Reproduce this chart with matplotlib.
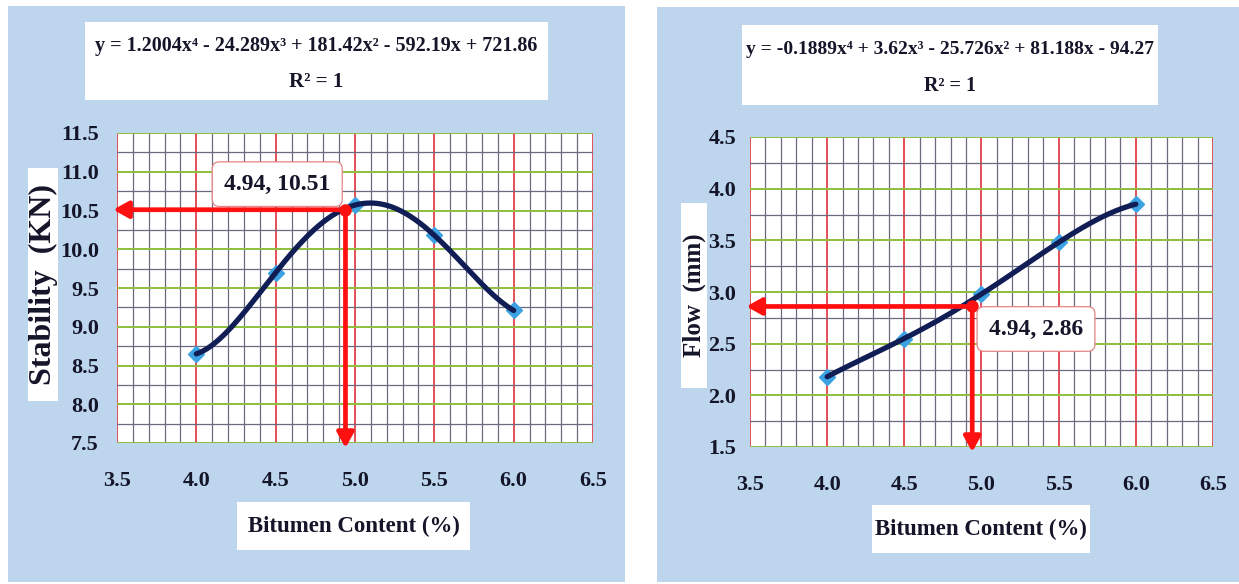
import numpy as np
import matplotlib
matplotlib.use("Agg")
import matplotlib.pyplot as plt
from matplotlib.patches import Rectangle
from matplotlib.ticker import MultipleLocator, FormatStrFormatter

# data
bitumen = [4.0, 4.5, 5.0, 5.5, 6.0]
stability = [8.65, 9.70, 10.57, 10.18, 9.21]
flow = [2.18, 2.55, 2.98, 3.48, 3.85]

opt_bitumen = 4.94
opt_stability = 10.51
opt_flow = 2.86

eq_stability = "y = 1.2004x⁴ - 24.289x³ + 181.42x² - 592.19x + 721.86"
eq_flow = "y = -0.1889x⁴ + 3.62x³ - 25.726x² + 81.188x - 94.27"
r2_text = "R² = 1"

plt.rcParams['font.family'] = ['Liberation Serif', 'DejaVu Serif']
plt.rcParams['font.weight'] = 'bold'

W, H = 1239, 584
BLUE = '#bdd6ee'
INK = '#15152a'

fig = plt.figure(figsize=(W / 100, H / 100), dpi=100)
fig.patch.set_facecolor('white')


def fx(x):
    return x / W


def fy(y):
    return 1 - y / H


def px_box(x0, y0, x1, y1, color):
    fig.add_artist(Rectangle((fx(x0), fy(y1)), fx(x1 - x0), (y1 - y0) / H,
                             transform=fig.transFigure, facecolor=color,
                             edgecolor='none', zorder=0))


def draw_panel(p, x, y, opt_x, opt_y, eq, ylabel, point_label):
    px_box(*p['panel'], BLUE)
    px_box(*p['eq_box'], 'white')
    px_box(*p['ylab_box'], 'white')
    px_box(*p['xlab_box'], 'white')

    x0, y0, x1, y1 = p['plot']
    ax = fig.add_axes([fx(x0), fy(y1), fx(x1 - x0), (y1 - y0) / H])
    ax.set_facecolor('white')
    ax.set_xlim(3.5, 6.5)
    ax.set_ylim(*p['ylim'])
    ax.xaxis.set_major_locator(MultipleLocator(0.5))
    ax.xaxis.set_minor_locator(MultipleLocator(0.1))
    ax.yaxis.set_major_locator(MultipleLocator(0.5))
    ax.yaxis.set_minor_locator(MultipleLocator(0.25))
    ax.xaxis.set_major_formatter(FormatStrFormatter('%.1f'))
    ax.yaxis.set_major_formatter(FormatStrFormatter('%.1f'))

    ax.grid(which='minor', axis='x', color='#6a6a80', lw=0.9)
    ax.grid(which='minor', axis='y', color='#6a6a80', lw=0.9)
    ax.grid(which='major', axis='x', color='#e0424c', lw=1.3)
    ax.grid(which='major', axis='y', color='#8dbf3c', lw=1.4)
    lo, hi = p['ylim']
    ax.set_axisbelow(True)
    for s in ax.spines.values():
        s.set_visible(False)
    ax.tick_params(which='both', length=0, labelsize=16, colors=INK)
    ax.tick_params(axis='y', pad=p['ypad'])
    ax.tick_params(axis='x', pad=20)

    # polynomial trendline (order 4) through the data, as in the source chart
    coef = np.polyfit(x, y, 4)
    xs = np.linspace(min(x), max(x), 200)
    ax.plot(x, y, 'D', ms=8, color='#3da2e2', zorder=2.5)
    ax.plot(xs, np.polyval(coef, xs), color='#111d55', lw=3.8, zorder=3,
            solid_capstyle='round')

    # red guide arrows to the axes
    span = hi - lo
    arrow = dict(arrowstyle='-|>,head_length=0.9,head_width=0.5', color='#ff1010',
                 lw=3.4, shrinkA=0, shrinkB=0)
    ax.annotate('', xy=(3.5 - 0.008 * 3, opt_y), xytext=(opt_x, opt_y),
                arrowprops=arrow, annotation_clip=False, zorder=4)
    ax.annotate('', xy=(opt_x, lo - 0.016 * span), xytext=(opt_x, opt_y),
                arrowprops=arrow, annotation_clip=False, zorder=4)
    ax.plot(opt_x, opt_y, 'o', color='#ff1010', ms=8, zorder=5)

    lx, ly = p['label_at']
    ax.text(lx, ly, point_label, ha='center', va='center', fontsize=17,
            color=INK, zorder=6,
            bbox=dict(boxstyle='round,pad=0.5,rounding_size=0.3', fc='white',
                      ec='#e58585', lw=0.9))

    ex0, ey0, ex1, ey1 = p['eq_box']
    fig.text(fx((ex0 + ex1) / 2), fy(p['eq_lines'][0]), eq, ha='center',
             va='center', fontsize=p['eq_size'], color=INK)
    fig.text(fx((ex0 + ex1) / 2), fy(p['eq_lines'][1]), r2_text, ha='center',
             va='center', fontsize=p['eq_size'] + 0.5, color=INK)

    bx0, by0, bx1, by1 = p['ylab_box']
    fig.text(fx((bx0 + bx1) / 2), fy((by0 + by1) / 2), ylabel, rotation=90,
             ha='center', va='center', fontsize=p['ylab_size'], color=INK)
    bx0, by0, bx1, by1 = p['xlab_box']
    fig.text(fx((bx0 + bx1) / 2), fy((by0 + by1) / 2), 'Bitumen Content (%)',
             ha='center', va='center', fontsize=16.5, color=INK)
    return ax


left = dict(panel=(8, 6, 625, 582), plot=(117, 133, 593, 443), ylim=(7.5, 11.5),
            eq_box=(85, 22, 548, 100), eq_lines=(46, 82), eq_size=14.5,
            ylab_box=(28, 168, 58, 401), ylab_size=23,
            xlab_box=(237, 502, 470, 550), ypad=13, label_at=(4.51, 10.84))
right = dict(panel=(657, 7, 1239, 582), plot=(750, 137, 1213, 447), ylim=(1.5, 4.5),
             eq_box=(742, 25, 1158, 105), eq_lines=(50, 86), eq_size=14,
             ylab_box=(681, 203, 707, 388), ylab_size=18,
             xlab_box=(872, 505, 1090, 553), ypad=10, label_at=(5.353, 2.642))

draw_panel(left, bitumen, stability, opt_bitumen, opt_stability, eq_stability,
           'Stability  (KN)', f'{opt_bitumen:.2f}, {opt_stability:.2f}')
draw_panel(right, bitumen, flow, opt_bitumen, opt_flow, eq_flow,
           'Flow  (mm)', f'{opt_bitumen:.2f}, {opt_flow:.2f}')

fig.savefig('out.png', dpi=100, facecolor=fig.get_facecolor())
